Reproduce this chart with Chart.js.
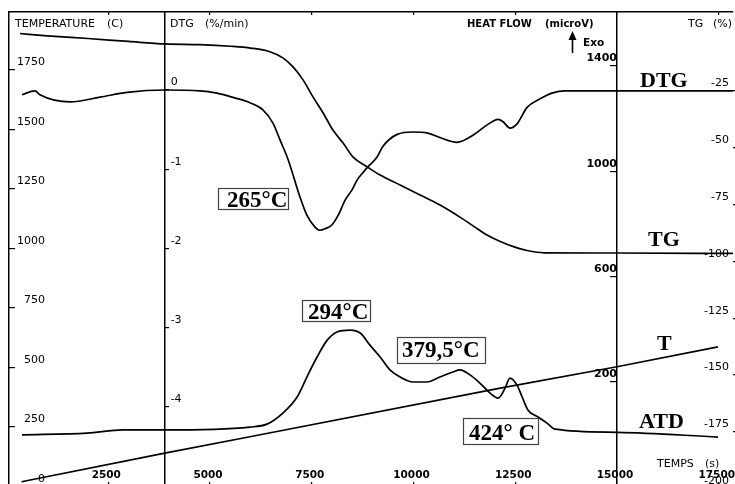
<!DOCTYPE html>
<html>
<head>
<meta charset="utf-8">
<script src="https://cdn.jsdelivr.net/npm/chart.js@4.4.0/dist/chart.umd.min.js"></script>
<style>
html,body{margin:0;padding:0;background:#fff;overflow:hidden}
#wrap{width:735px;height:484px;overflow:hidden;background:#fff}
</style>
</head>
<body>
<div id="wrap"><canvas id="c" width="735" height="500"></canvas></div>
<script>
// ---- tick labels ----
const timeTicks = [2500, 5000, 7500, 10000, 12500, 15000, 17500];
const tempTicks = [0, 250, 500, 750, 1000, 1250, 1500, 1750];
const dtgTicks  = [0, -1, -2, -3, -4];
const heatTicks = [200, 600, 1000, 1400];
const tgTicks   = [-25, -50, -75, -100, -125, -150, -175, -200];

// ---- series: TG (%) ----
const tgTime = [330, 1000, 2000, 3000, 3900, 4750, 5500, 6000, 6470, 6790, 7040, 7290, 7530, 7780, 8020, 8270, 8510, 8860, 9180, 9670, 10160, 10650, 11140, 11510, 11760, 12130, 12490, 12790, 13210, 15000, 17850];
const tgPct  = [0.3, -0.7, -1.9, -3.2, -4.3, -4.6, -5.3, -6.1, -7.7, -10.4, -14.4, -20.2, -27.6, -34.7, -42.2, -47.9, -54.0, -58.4, -62.0, -66.4, -70.8, -75.2, -80.5, -84.9, -87.9, -91.2, -93.7, -95.2, -96.2, -96.3, -96.5];

// ---- series: DTG (%/min) ----
const dtgTime = [380, 700, 820, 1560, 2300, 2960, 3890, 4750, 5170, 5610, 5980, 6300, 6550, 6720, 6920, 7210, 7380, 7580, 7700, 7830, 8000, 8150, 8320, 8490, 8610, 8760, 8880, 9100, 9250, 9600, 9990, 10330, 10650, 11070, 11460, 11810, 12080, 12200, 12370, 12540, 12790, 13110, 13400, 13720, 14950, 17850];
const dtgVal  = [-0.06, -0.01, -0.06, -0.15, -0.09, -0.03, 0, -0.01, -0.04, -0.10, -0.16, -0.25, -0.42, -0.63, -0.88, -1.35, -1.58, -1.73, -1.77, -1.75, -1.70, -1.58, -1.39, -1.26, -1.14, -1.04, -0.97, -0.85, -0.71, -0.56, -0.53, -0.54, -0.60, -0.66, -0.57, -0.44, -0.37, -0.40, -0.48, -0.43, -0.22, -0.11, -0.04, -0.01, -0.01, -0.01];

// ---- series: ATD heat flow (microV) ----
const atdTime = [380, 1980, 2860, 3890, 5980, 6400, 6790, 7140, 7380, 7630, 7880, 8120, 8440, 8690, 8930, 9180, 9420, 9670, 9990, 10330, 10650, 10970, 11140, 11390, 11630, 11880, 12080, 12250, 12370, 12540, 12670, 12810, 13060, 13280, 13480, 15020, 17480];
const atdVal  = [-1, 6, 18, 18, 29, 40, 82, 143, 219, 295, 359, 390, 397, 386, 340, 295, 246, 219, 200, 200, 219, 238, 246, 227, 196, 158, 139, 177, 215, 189, 143, 94, 67, 44, 21, 9, -9];

// ---- series: T temperature (C) ----
const tTime = [370, 3890, 5980, 12130, 15000, 17480];
const tVal  = [20, 140, 209, 413, 503, 587];

// ---- axis ranges / positions ----
const X_RANGE = [61, 17850];
const TEMP_RANGE = [-14.7, 1993.7];
const DTG_RANGE = [-5.047, 0.984];
const HEAT_RANGE = [-210.1, 1605.1];
const TG_RANGE = [-200.6, 9.77];
const DTG_AXIS_AT = 3885;
const HEAT_AXIS_AT = 15000;

const pts = (xs, ys) => xs.map((x, i) => ({x: x, y: ys[i]}));
const fixTicks = arr => scale => { scale.ticks = arr.map(v => ({value: v})); };
const noPad = s => { s.paddingTop = 0; s.paddingBottom = 0; s.paddingLeft = 0; s.paddingRight = 0; };
const FAM = 'DejaVu Sans';
const fNorm = {family: FAM, size: 11, weight: 'normal'};
const fBold = {family: FAM, size: 11, weight: 'bold'};
const lbl = v => String(v);

const line = (data, axis, mono) => ({
  data: data, yAxisID: axis, xAxisID: 'x',
  borderColor: '#000', borderWidth: 1.7, pointRadius: 0, fill: false,
  cubicInterpolationMode: mono ? 'monotone' : 'default', tension: 0
});

const textPlugin = {
  id: 'texts',
  afterDraw(chart) {
    const ctx = chart.ctx;
    ctx.save();
    ctx.fillStyle = '#000';
    ctx.strokeStyle = '#000';
    // DTG tick labels (left-aligned right of the inner axis)
    const sD = chart.scales.yDTG;
    const xD = chart.scales.x.getPixelForValue(DTG_AXIS_AT);
    ctx.font = '11px "DejaVu Sans"';
    ctx.textAlign = 'left';
    ctx.textBaseline = 'middle';
    sD.ticks.forEach(t => ctx.fillText(String(t.value), xD + 6, sD.getPixelForValue(t.value) - 7.5));

    // header / axis titles
    ctx.textBaseline = 'alphabetic';
    const hdr = [
      ['TEMPERATURE', 15, 26.5, false], ['(C)', 107, 26.5, false],
      ['DTG', 170, 26.5, false], ['(%/min)', 205, 26.5, false],
      ['HEAT FLOW', 467, 26.5, true], ['(microV)', 545, 26.5, true],
      ['TG', 688, 27, false], ['(%)', 713, 27, false],
      ['TEMPS', 657, 467, false], ['(s)', 705, 467, false],
      ['Exo', 583, 45.5, true]
    ];
    hdr.forEach(h => {
      ctx.font = (h[3] ? 'bold 10px ' : '11px ') + '"DejaVu Sans"';
      if (h[3] && h[0] === 'Exo') ctx.font = 'bold 10.5px "DejaVu Sans"';
      ctx.fillText(h[0], h[1], h[2]);
    });
    // Exo arrow
    ctx.lineWidth = 1.6;
    ctx.beginPath(); ctx.moveTo(572.5, 53); ctx.lineTo(572.5, 38); ctx.stroke();
    ctx.beginPath(); ctx.moveTo(572.5, 31); ctx.lineTo(568.5, 40); ctx.lineTo(576.5, 40); ctx.closePath(); ctx.fill();

    // curve names
    ctx.font = 'bold 22px "Liberation Serif"';
    [['DTG', 640, 87], ['TG', 648, 246], ['T', 657, 350], ['ATD', 639, 428]].forEach(n => ctx.fillText(n[0], n[1], n[2]));

    // boxed temperatures
    const boxes = [
      ['265\u00B0C', 218, 188, 70, 21, 227, 207],
      ['294\u00B0C', 302, 300, 68, 21, 308, 319],
      ['379,5\u00B0C', 397, 337, 88, 26, 402, 357],
      ['424\u00B0 C', 463, 418, 75, 26, 469, 440]
    ];
    ctx.font = 'bold 23px "Liberation Serif"';
    boxes.forEach(b => {
      ctx.fillStyle = '#fff';
      ctx.fillRect(b[1], b[2], b[3], b[4]);
      ctx.strokeStyle = '#444';
      ctx.lineWidth = 1.2;
      ctx.strokeRect(b[1] + 0.5, b[2] + 0.5, b[3], b[4]);
      ctx.fillStyle = '#000';
      ctx.fillText(b[0], b[5], b[6]);
    });
    ctx.restore();
  }
};

new Chart(document.getElementById('c'), {
  type: 'line',
  data: {
    datasets: [
      line(pts(tgTime, tgPct), 'yTG', true),
      line(pts(dtgTime, dtgVal), 'yDTG', true),
      line(pts(atdTime, atdVal), 'yHF', true),
      line(pts(tTime, tVal), 'yT', false)
    ]
  },
  options: {
    responsive: false,
    animation: false,
    events: [],
    layout: {padding: {left: 9, top: 12, right: 0, bottom: 0}, autoPadding: false},
    plugins: {legend: {display: false}, tooltip: {enabled: false}},
    scales: {
      x: {
        type: 'linear', position: 'bottom', min: X_RANGE[0], max: X_RANGE[1],
        afterBuildTicks: fixTicks(timeTicks),
        afterFit: s => { s.height = 10; noPad(s); },
        grid: {drawOnChartArea: false, drawTicks: true, tickLength: -8, color: '#000', lineWidth: 1.2},
        border: {display: true, color: '#000', width: 1.5},
        ticks: {autoSkip: false, maxRotation: 0, minRotation: 0, mirror: true, padding: 8, labelOffset: -2, color: '#000',
                font: {family: FAM, size: 10.5, weight: 'bold'}, callback: lbl}
      },
      x2: {
        type: 'linear', position: 'top', min: X_RANGE[0], max: X_RANGE[1],
        afterBuildTicks: fixTicks(timeTicks),
        afterFit: s => { s.height = 0; noPad(s); },
        grid: {drawOnChartArea: false, drawTicks: true, tickLength: -3, color: '#000', lineWidth: 1.2},
        border: {display: true, color: '#000', width: 1.5},
        ticks: {display: false}
      },
      yT: {
        type: 'linear', position: 'left', min: TEMP_RANGE[0], max: TEMP_RANGE[1],
        afterBuildTicks: fixTicks(tempTicks),
        afterFit: s => { s.width = 0; noPad(s); },
        grid: {drawOnChartArea: false, drawTicks: true, tickLength: -6, color: '#000', lineWidth: 1.2},
        border: {display: true, color: '#000', width: 1.5},
        ticks: {mirror: true, crossAlign: 'far', padding: 8, labelOffset: -7.5, autoSkip: false,
                color: '#000', font: fNorm, callback: lbl}
      },
      yTG: {
        type: 'linear', position: 'right', min: TG_RANGE[0], max: TG_RANGE[1],
        afterBuildTicks: fixTicks(tgTicks),
        afterFit: s => { s.width = 2; noPad(s); },
        grid: {drawOnChartArea: false, drawTicks: true, tickLength: 3, color: '#000', lineWidth: 1.2},
        border: {display: false},
        ticks: {mirror: true, padding: -4, labelOffset: -7.5, autoSkip: false,
                color: '#000', font: fNorm, callback: lbl}
      },
      yDTG: {
        type: 'linear', axis: 'y', position: {x: DTG_AXIS_AT}, min: DTG_RANGE[0], max: DTG_RANGE[1],
        afterBuildTicks: fixTicks(dtgTicks),
        afterFit: s => { noPad(s); },
        grid: {drawOnChartArea: false, drawTicks: true, tickLength: -5, color: '#000', lineWidth: 1.2},
        border: {display: true, color: '#000', width: 1.5},
        ticks: {display: false}
      },
      yHF: {
        type: 'linear', axis: 'y', position: {x: HEAT_AXIS_AT}, min: HEAT_RANGE[0], max: HEAT_RANGE[1],
        afterBuildTicks: fixTicks(heatTicks),
        afterFit: s => { noPad(s); },
        grid: {drawOnChartArea: false, drawTicks: true, tickLength: 6, color: '#000', lineWidth: 1.2},
        border: {display: true, color: '#000', width: 1.5},
        ticks: {padding: 5, labelOffset: -7.5, autoSkip: false, color: '#000', font: fBold, callback: lbl}
      }
    }
  },
  plugins: [textPlugin]
});
</script>
</body>
</html>
